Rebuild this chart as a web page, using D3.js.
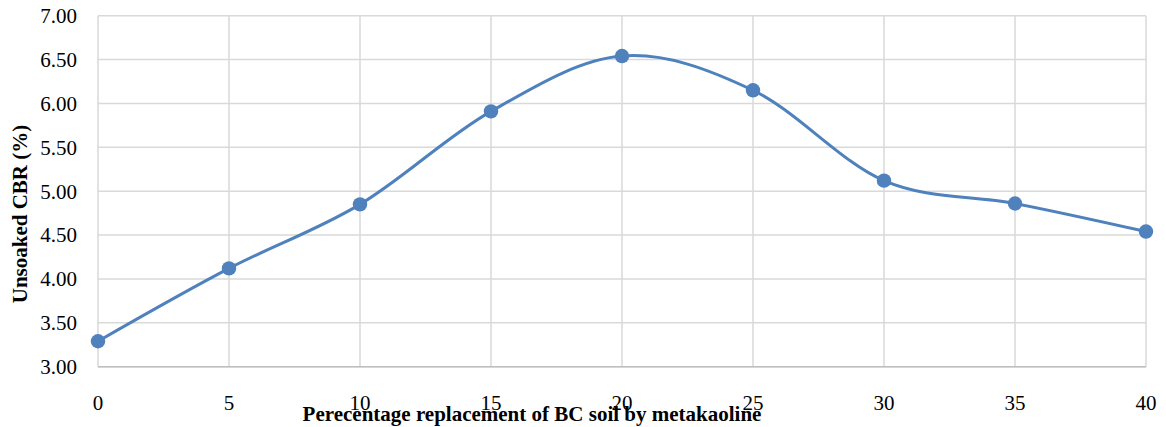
<!DOCTYPE html>
<html>
<head>
<meta charset="utf-8">
<script src="https://cdn.jsdelivr.net/npm/d3@7"></script>
<style>
  html, body { margin: 0; padding: 0; background: #fff; }
  svg { display: block; }
  text { font-family: "Liberation Serif", "Times New Roman", serif; fill: #000; }
</style>
</head>
<body>
<svg id="chart" width="1166" height="427"></svg>
<script>
const replacement = [0, 5, 10, 15, 20, 25, 30, 35, 40];
const cbrValues = [3.29, 4.12, 4.85, 5.91, 6.54, 6.15, 5.12, 4.86, 4.54];
const yTicks = [3.0, 3.5, 4.0, 4.5, 5.0, 5.5, 6.0, 6.5, 7.0];
const xTicks = [0, 5, 10, 15, 20, 25, 30, 35, 40];
const xTitle = "Perecentage replacement of BC soil by metakaoline";
const yTitle = "Unsoaked CBR (%)";

const svg = d3.select("#chart");
const pLeft = 98, pRight = 1146, pTop = 15.7, pBottom = 366.7;

const x = d3.scaleLinear().domain([0, 40]).range([pLeft, pRight]);
const y = d3.scaleLinear().domain([3, 7]).range([pBottom, pTop]);

// horizontal gridlines
svg.append("g").selectAll("line").data(yTicks).join("line")
  .attr("x1", pLeft).attr("x2", pRight)
  .attr("y1", d => y(d)).attr("y2", d => y(d))
  .attr("stroke", "#d9d9d9")
  .attr("stroke-width", 1.5);

// vertical gridlines
svg.append("g").selectAll("line").data(xTicks).join("line")
  .attr("x1", d => x(d)).attr("x2", d => x(d))
  .attr("y1", pTop).attr("y2", pBottom)
  .attr("stroke", "#d9d9d9")
  .attr("stroke-width", 1.5);

// bottom axis line on top
svg.append("line").attr("x1", pLeft).attr("x2", pRight)
  .attr("y1", y(3)).attr("y2", y(3))
  .attr("stroke", "#bfbfbf").attr("stroke-width", 1.5);

// y tick labels
svg.append("g").selectAll("text").data(yTicks).join("text")
  .attr("x", 77).attr("y", d => y(d))
  .attr("dy", "0.35em")
  .attr("text-anchor", "end")
  .style("font-size", "21px")
  .text(d => d3.format(".2f")(d));

// x tick labels
svg.append("g").selectAll("text").data(xTicks).join("text")
  .attr("x", d => x(d)).attr("y", 410)
  .attr("text-anchor", "middle")
  .style("font-size", "21px")
  .text(d => d);

// line
const pts = replacement.map((r, i) => [r, cbrValues[i]]);
const line = d3.line().x(d => x(d[0])).y(d => y(d[1])).curve(d3.curveCardinal.tension(0));
svg.append("path").datum(pts)
  .attr("d", line)
  .attr("fill", "none")
  .attr("stroke", "#4f81bd")
  .attr("stroke-width", 3);

svg.append("g").selectAll("circle").data(pts).join("circle")
  .attr("cx", d => x(d[0])).attr("cy", d => y(d[1]))
  .attr("r", 7.2)
  .attr("fill", "#4f81bd");

// axis titles
svg.append("text")
  .attr("x", 532).attr("y", 421)
  .attr("text-anchor", "middle")
  .style("font-size", "21px").style("font-weight", "bold")
  .text(xTitle);

svg.append("text")
  .attr("transform", "translate(27,214) rotate(-90)")
  .attr("text-anchor", "middle")
  .style("font-size", "21px").style("font-weight", "bold")
  .text(yTitle);
</script>
</body>
</html>
